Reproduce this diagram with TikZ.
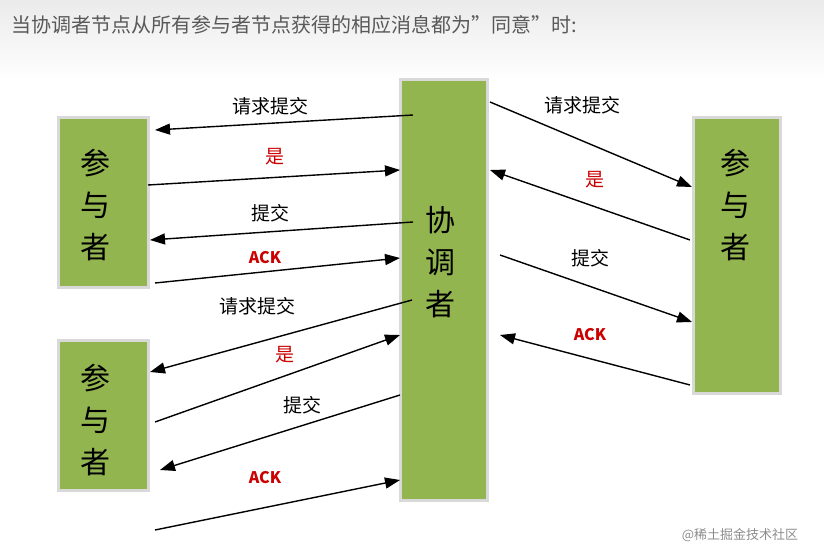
\documentclass[tikz,border=0pt]{standalone}
\usepackage{fontspec}
\setmainfont{Noto Sans CJK SC}
\usetikzlibrary{arrows.meta}
\definecolor{boxg}{HTML}{93B550}
\tikzset{
 box/.style={fill=boxg,draw=black!15,line width=3pt,inner sep=0pt},
 arr/.style={-{Triangle[length=15pt,width=11pt]},line width=1.4pt},
 lbl/.style={font=\fontsize{19}{21}\selectfont},
 rl/.style={font=\bfseries\fontsize{16}{18}\selectfont,text=red!80!black},
 rz/.style={font=\fontsize{19}{21}\selectfont,text=red!80!black},
 big/.style={font=\fontsize{30}{42}\selectfont,align=center}
}
\begin{document}
\begin{tikzpicture}[x=1pt,y=-1pt]
\useasboundingbox (0,0) rectangle (824,553);
\shade[top color=black!8,bottom color=white] (0,0) rectangle (824,80);
\node[anchor=west,text=black!65,font=\fontsize{20}{22}\selectfont] (title) at (8,25) {当协调者节点从所有参与者节点获得的相应消息都为”同意”时:};
% boxes
\draw[box] (58,118) rectangle (148,287);
\draw[box] (58,340) rectangle (148,490);
\draw[box] (400,80) rectangle (487,500);
\draw[box] (693,118) rectangle (780,393);
\node[big] (lt) at (95,205) {参\\与\\者};
\node[big] (lb) at (95,420) {参\\与\\者};
\node[big] (c) at (440,262) {协\\调\\者};
\node[big] (r) at (735,205) {参\\与\\者};
% endpoints
\foreach \n/\x/\y in {a1/413/115,b1/155/130,a2/148/185,b2/400/170,a3/413/222,b3/150/240,a4/155/283,b4/400/258,
 a5/412/300,b5/150/372,a6/155/422,b6/400/335,a7/400/395,b7/160/470,a8/155/530,b8/400/480,
 a9/490/102,b9/692/187,a10/690/240,b10/490/170,a11/500/255,b11/692/322,a12/690/385,b12/500/335}
 \coordinate (\n) at (\x,\y);
\foreach \i in {1,...,12} \draw[arr] (a\i) -- (b\i);
\node[lbl] (l1) at (270,106) {请求提交};
\node[rz] (l2) at (275,157) {是};
\node[lbl] (l3) at (270,213) {提交};
\node[rl] (l4) at (265,258) {ACK};
\node[lbl] (l5) at (257,306) {请求提交};
\node[rz] (l6) at (285,355) {是};
\node[lbl] (l7) at (302,405) {提交};
\node[rl] (l8) at (265,478) {ACK};
\node[lbl] (l9) at (582,105) {请求提交};
\node[rz] (l10) at (595,180) {是};
\node[lbl] (l11) at (590,258) {提交};
\node[rl] (l12) at (590,335) {ACK};
\node[text=black!45,font=\fontsize{13}{15}\selectfont] (wm) at (740,535) {@稀土掘金技术社区};
\end{tikzpicture}
\end{document}
